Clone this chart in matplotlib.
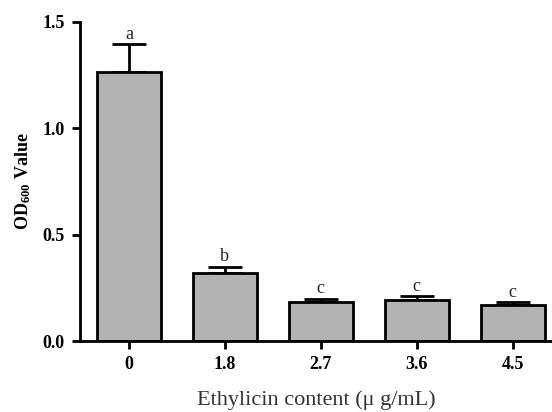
import matplotlib.pyplot as plt
import numpy as np

# datos
concentraciones = ["0", "1.8", "2.7", "3.6", "4.5"]
od600 = [1.265, 0.32, 0.186, 0.195, 0.171]
error = [0.13, 0.03, 0.013, 0.015, 0.012]
letras = ["a", "b", "c", "c", "c"]

plt.rcParams['font.family'] = ['Liberation Serif', 'DejaVu Serif']
plt.rcParams['mathtext.default'] = 'regular'

fig = plt.figure(figsize=(5.52, 4.12), dpi=100)
ax = fig.add_axes([0.145, 0.172, 0.855, 0.775])

x = np.arange(len(concentraciones))
ax.bar(x, od600, width=0.67, color="#b3b3b3", edgecolor="black", linewidth=2, zorder=2)
ax.errorbar(x, od600, yerr=[np.zeros(len(error)), error], fmt="none", ecolor="black",
            elinewidth=2, capsize=12, capthick=2, zorder=1)

for xi, v, e, l in zip(x, od600, error, letras):
    ax.text(xi, v + e + 0.006, l, ha="center", va="bottom", fontsize=13, color="#222222")

ax.set_xlim(-0.51, 4.41)
ax.set_ylim(0, 1.5)
ax.set_yticks([0.0, 0.5, 1.0, 1.5])
ax.set_yticklabels(["0.0", "0.5", "1.0", "1.5"])
ax.set_xticks(x)
ax.set_xticklabels(concentraciones)

for s in ["top", "right"]:
    ax.spines[s].set_visible(False)
for s in ["left", "bottom"]:
    ax.spines[s].set_linewidth(2)
ax.tick_params(width=2, length=6, labelsize=13, pad=5)
for t in ax.get_xticklabels() + ax.get_yticklabels():
    t.set_fontweight("bold")

ax.set_ylabel("OD$_{600}$ Value", fontsize=13, fontweight="bold", labelpad=7)
ax.set_xlabel("Ethylicin content (\u03bc g/mL)", fontsize=16, labelpad=12, color="#333333")

plt.savefig("out.png", dpi=100)
